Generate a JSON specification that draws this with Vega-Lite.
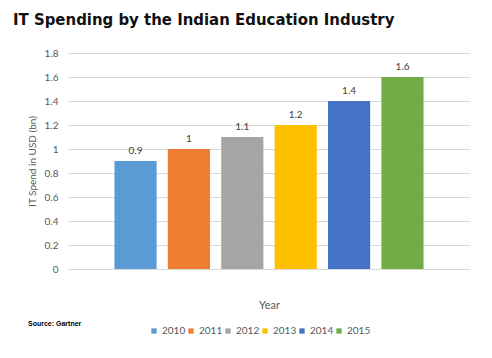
{
  "$schema": "https://vega.github.io/schema/vega-lite/v6.json",
  "autosize": "none",
  "width": 402,
  "height": 216,
  "padding": {"left": 68, "top": 53, "right": 22, "bottom": 89},
  "background": "white",
  "title": {
    "text": "IT Spending by the Indian Education Industry",
    "anchor": "start",
    "frame": "group",
    "dx": -55,
    "offset": 19,
    "font": "DejaVu Sans Condensed",
    "fontSize": 16.6,
    "fontWeight": "bold",
    "color": "#111111"
  },
  "data": {
    "values": [
      {"year": "2010", "spend": 0.9},
      {"year": "2011", "spend": 1.0},
      {"year": "2012", "spend": 1.1},
      {"year": "2013", "spend": 1.2},
      {"year": "2014", "spend": 1.4},
      {"year": "2015", "spend": 1.6}
    ]
  },
  "encoding": {
    "x": {
      "field": "year",
      "type": "nominal",
      "title": "Year",
      "scale": {"paddingInner": 0.21, "paddingOuter": 0.87},
      "axis": {
        "labels": false,
        "ticks": false,
        "domain": false,
        "titlePadding": 30,
        "titleFont": "Lato",
        "titleFontSize": 11,
        "titleFontWeight": "normal",
        "titleColor": "#595959"
      }
    },
    "y": {
      "field": "spend",
      "type": "quantitative",
      "title": "IT Spend in USD (bn)",
      "scale": {"domain": [0, 1.8]},
      "axis": {
        "values": [0, 0.2, 0.4, 0.6, 0.8, 1, 1.2, 1.4, 1.6, 1.8],
        "format": "~g",
        "domain": false,
        "ticks": false,
        "labelPadding": 10,
        "labelFont": "Lato",
        "labelFontSize": 10,
        "labelColor": "#595959",
        "gridColor": "#d9d9d9",
        "titleFont": "Lato",
        "titleFontSize": 10,
        "titleFontWeight": "normal",
        "titleColor": "#595959",
        "titlePadding": 7
      }
    }
  },
  "layer": [
    {
      "mark": {"type": "bar"},
      "encoding": {
        "color": {
          "field": "year",
          "type": "nominal",
          "scale": {
            "domain": ["2010", "2011", "2012", "2013", "2014", "2015"],
            "range": ["#5B9BD5", "#ED7D31", "#A5A5A5", "#FFC000", "#4472C4", "#70AD47"]
          },
          "legend": {
            "title": ["Source: Gartner", " ", " "],
            "orient": "none",
            "legendX": -40,
            "legendY": 273,
            "direction": "horizontal",
            "titleOrient": "left",
            "titlePadding": 67,
            "titleFont": "Liberation Sans",
            "titleFontSize": 7,
            "titleLineHeight": 7,
            "titleFontWeight": "bold",
            "titleColor": "#000000",
            "titleBaseline": "middle",
            "symbolType": "square",
            "symbolSize": 28,
            "symbolStrokeWidth": 0,
            "labelFont": "Lato",
            "labelFontSize": 10,
            "labelColor": "#595959",
            "labelOffset": 3,
            "columnPadding": -12
          }
        }
      }
    },
    {
      "mark": {"type": "text", "baseline": "bottom", "dy": -5, "font": "Lato", "fontSize": 10, "color": "#404040"},
      "encoding": {
        "text": {"field": "spend", "type": "quantitative", "format": "~g"}
      }
    }
  ],
  "config": {
    "view": {"stroke": null}
  }
}
